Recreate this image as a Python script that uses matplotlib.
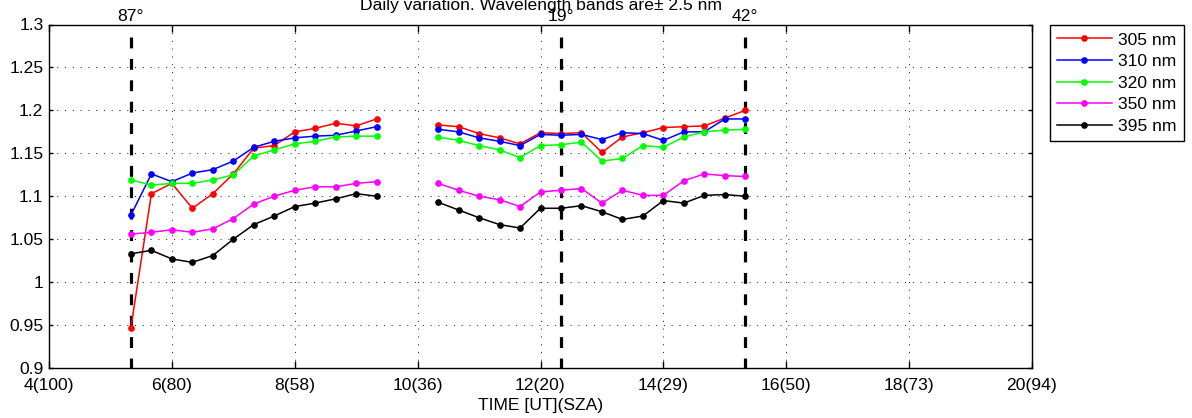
import matplotlib
matplotlib.use('Agg')
import matplotlib.pyplot as plt

plt.rcParams.update({
    'font.family': ['Liberation Sans', 'DejaVu Sans'],
    'font.size': 12.6,
})

# hours UT, two measurement blocks (gap around noon)
TIME_AM = [5.333, 5.667, 6.0, 6.333, 6.667, 7.0, 7.333, 7.667, 8.0, 8.333, 8.667, 9.0, 9.333]
TIME_PM = [10.333, 10.667, 11.0, 11.333, 11.667, 12.0, 12.333, 12.667, 13.0, 13.333,
           13.667, 14.0, 14.333, 14.667, 15.0, 15.333]

R305_AM = [0.947, 1.103, 1.115, 1.086, 1.103, 1.126, 1.156, 1.159, 1.175, 1.179, 1.185, 1.182, 1.190]
R310_AM = [1.078, 1.126, 1.117, 1.127, 1.131, 1.141, 1.157, 1.164, 1.168, 1.170, 1.171, 1.176, 1.181]
R320_AM = [1.119, 1.113, 1.115, 1.115, 1.119, 1.125, 1.147, 1.154, 1.161, 1.164, 1.169, 1.170, 1.170]
R350_AM = [1.056, 1.058, 1.061, 1.058, 1.062, 1.074, 1.091, 1.100, 1.107, 1.111, 1.111, 1.115, 1.117]
R395_AM = [1.033, 1.037, 1.027, 1.023, 1.031, 1.050, 1.067, 1.077, 1.088, 1.092, 1.097, 1.103, 1.100]

R305_PM = [1.183, 1.181, 1.173, 1.168, 1.161, 1.174, 1.173, 1.174, 1.151, 1.169, 1.174, 1.180,
           1.181, 1.182, 1.191, 1.200]
R310_PM = [1.178, 1.175, 1.168, 1.164, 1.159, 1.172, 1.171, 1.172, 1.166, 1.174, 1.173, 1.165,
           1.175, 1.175, 1.190, 1.190]
R320_PM = [1.169, 1.165, 1.159, 1.154, 1.145, 1.159, 1.160, 1.163, 1.141, 1.144, 1.159, 1.157,
           1.169, 1.175, 1.177, 1.178]
R350_PM = [1.115, 1.107, 1.100, 1.096, 1.088, 1.105, 1.107, 1.109, 1.092, 1.107, 1.101, 1.101,
           1.118, 1.126, 1.124, 1.123]
R395_PM = [1.093, 1.084, 1.075, 1.067, 1.063, 1.086, 1.086, 1.089, 1.082, 1.073, 1.077, 1.095,
           1.092, 1.101, 1.102, 1.100]

LABELS = ['305 nm', '310 nm', '320 nm', '350 nm', '395 nm']
COLORS = ['#ff0000', '#0000ff', '#00ff00', '#ff00ff', '#000000']

XTICKS = [4, 6, 8, 10, 12, 14, 16, 18, 20]
XTICK_LABELS = ['4(100)', '6(80)', '8(58)', '10(36)', '12(20)', '14(29)', '16(50)', '18(73)', '20(94)']
YTICKS = [0.9, 0.95, 1.0, 1.05, 1.1, 1.15, 1.2, 1.25, 1.3]
YTICK_LABELS = ['0.9', '0.95', '1', '1.05', '1.1', '1.15', '1.2', '1.25', '1.3']

SZA_TIMES = [5.333, 12.333, 15.333]
SZA_LABELS = ['87°', '19°', '42°']
DASH_TOP = 1.286

W, H = 1192, 418
fig = plt.figure(figsize=(W / 100, H / 100), dpi=100)
ax = fig.add_axes([49 / W, 1 - 368 / H, (1032 - 49) / W, (368 - 24.5) / H])

# dashed markers for selected solar zenith angles
for t, lab in zip(SZA_TIMES, SZA_LABELS):
    ax.plot([t, t], [DASH_TOP, 0.9], color='k', lw=2.3, linestyle=(0, (3.4, 3.3)),
            solid_capstyle='butt', dash_capstyle='butt', zorder=1, clip_on=False)
    ax.annotate(lab, (t, 1.3), xytext=(0, 2.5), textcoords='offset points',
                ha='center', va='baseline', annotation_clip=False)

am = [R305_AM, R310_AM, R320_AM, R350_AM, R395_AM]
pm = [R305_PM, R310_PM, R320_PM, R350_PM, R395_PM]
for yam, ypm, c, lab in zip(am, pm, COLORS, LABELS):
    ax.plot(TIME_AM, yam, '-o', color=c, lw=1.1, ms=3.8, label=lab, zorder=3)
    ax.plot(TIME_PM, ypm, '-o', color=c, lw=1.1, ms=3.8, zorder=3)

ax.set_xlim(4, 20)
ax.set_ylim(0.9, 1.3)
ax.set_xticks(XTICKS)
ax.set_xticklabels(XTICK_LABELS)
ax.set_yticks(YTICKS)
ax.set_yticklabels(YTICK_LABELS)
ax.tick_params(direction='in', top=True, right=True, width=1.0)
ax.tick_params(axis='x', length=5, pad=7)
ax.tick_params(axis='y', length=3, pad=4)
ax.grid(True, color='k', lw=0.7, linestyle=(0, (1, 7)), alpha=0.9)
for s in ax.spines.values():
    s.set_linewidth(1.0)

ax.set_xlabel('TIME [UT](SZA)', labelpad=3.5)
fig.text(540.5 / W, 1 - 10 / H, 'Daily variation. Wavelength bands are± 2.5 nm',
         ha='center', va='baseline')

leg = fig.legend(loc='upper left', bbox_to_anchor=(1050 / W, 1 - 25 / H),
                 bbox_transform=fig.transFigure, borderaxespad=0, fancybox=False,
                 edgecolor='k', framealpha=1, handlelength=3.1, handletextpad=0.35,
                 labelspacing=0.36, borderpad=0.42)
leg.get_frame().set_linewidth(1.0)

fig.savefig('out.png', dpi=100)
